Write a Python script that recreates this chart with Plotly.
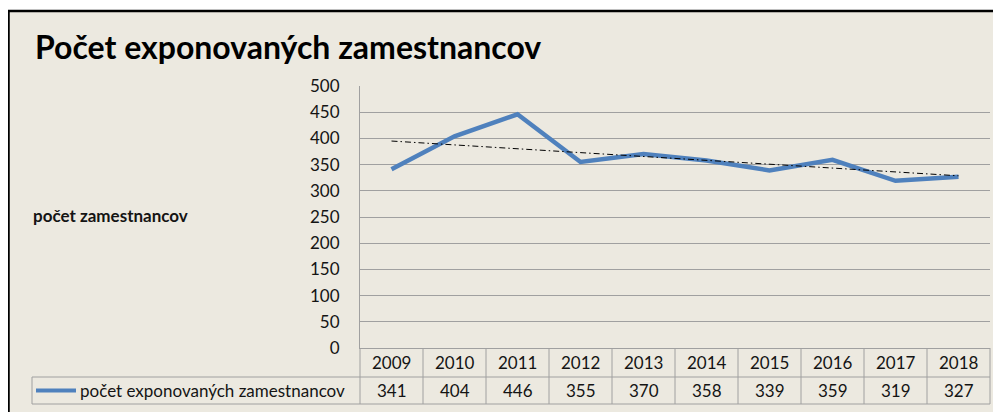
import numpy as np
import plotly.graph_objects as go

# ---- data ----
years = ["2009", "2010", "2011", "2012", "2013", "2014", "2015", "2016", "2017", "2018"]
values = [341, 404, 446, 355, 370, 358, 339, 359, 319, 327]
series_name = "počet exponovaných zamestnancov"
title_text = "Počet exponovaných zamestnancov"
y_title = "počet zamestnancov"
y_ticks = [0, 50, 100, 150, 200, 250, 300, 350, 400, 450, 500]

# ---- layout geometry (page pixel coords; page body has 8px margin) ----
OFF = 8
W, H = 1001 - OFF, 412 - OFF
ML, MR, MT, MB = 360 - OFF, 11, 86 - OFF, 412 - 348
PW = W - ML - MR
PH = H - MT - MB
BEIGE = "#ECE9E0"
GRID = "#A0A0A0"
BLUE = "#4F81BD"
FONT = "Lato"
TXT = "#141414"


def px(xp):
    # page pixel x -> paper x
    return (xp - OFF - ML) / PW


def py(yp):
    # page pixel y -> paper y
    return (H - MB - (yp - OFF)) / PH


# linear trendline computed from the data
idx = np.arange(len(values))
slope, intercept = np.polyfit(idx, values, 1)
trend = slope * idx + intercept

fig = go.Figure()
fig.add_trace(go.Scatter(x=years, y=values, mode="lines",
                         line=dict(color=BLUE, width=4.5), showlegend=False,
                         name=series_name))
fig.add_trace(go.Scatter(x=years, y=trend, mode="lines",
                         line=dict(color="black", width=1, dash="6px,3px,1.5px,3px"),
                         showlegend=False))

shapes = []
# outer chart frame (beige with black border on top/left)
shapes.append(dict(type="rect", xref="paper", yref="paper", layer="below",
                   x0=px(8.5), x1=px(1030), y0=py(11), y1=py(440),
                   fillcolor=BEIGE, line=dict(color="black", width=2.5)))

# data table grid
n = len(years)
row1_top, row2_top, row2_bot = 348, 377, 404
plot_left = 360
col_w = PW / n
for k in range(n + 1):
    xk = plot_left + k * col_w
    shapes.append(dict(type="line", xref="paper", yref="paper",
                       x0=px(xk), x1=px(xk), y0=py(row1_top), y1=py(row2_bot),
                       line=dict(color=GRID, width=1)))
for yy in (row2_top, row2_bot):
    shapes.append(dict(type="line", xref="paper", yref="paper",
                       x0=px(32), x1=px(plot_left + PW), y0=py(yy), y1=py(yy),
                       line=dict(color=GRID, width=1)))
shapes.append(dict(type="line", xref="paper", yref="paper",
                   x0=px(32), x1=px(32), y0=py(row2_top), y1=py(row2_bot),
                   line=dict(color=GRID, width=1)))
# legend key
shapes.append(dict(type="line", xref="paper", yref="paper",
                   x0=px(36), x1=px(76), y0=py(390.5), y1=py(390.5),
                   line=dict(color=BLUE, width=4)))

annotations = []
annotations.append(dict(text="<b>" + title_text + "</b>", xref="paper", yref="paper",
                        x=px(33), y=py(47), xanchor="left", yanchor="middle",
                        showarrow=False, font=dict(family=FONT, size=32, color="black")))
annotations.append(dict(text="<b>" + y_title + "</b>", xref="paper", yref="paper",
                        x=px(31), y=py(215), xanchor="left", yanchor="middle",
                        showarrow=False, font=dict(family=FONT, size=17, color=TXT)))
annotations.append(dict(text=series_name, xref="paper", yref="paper",
                        x=px(78), y=py(390.5), xanchor="left", yanchor="middle",
                        showarrow=False, font=dict(family=FONT, size=17, color=TXT)))
for i, (yr, v) in enumerate(zip(years, values)):
    annotations.append(dict(text=yr, xref="x", yref="paper", x=i, y=py(362.5),
                            xanchor="center", yanchor="middle", showarrow=False,
                            font=dict(family=FONT, size=17, color=TXT)))
    annotations.append(dict(text=str(v), xref="x", yref="paper", x=i, y=py(390.5),
                            xanchor="center", yanchor="middle", showarrow=False,
                            font=dict(family=FONT, size=17, color=TXT)))

fig.update_layout(
    width=W, height=H,
    margin=dict(l=ML, r=MR, t=MT, b=MB, pad=0),
    paper_bgcolor="white", plot_bgcolor="white",
    shapes=shapes, annotations=annotations,
    font=dict(family=FONT, color=TXT),
    xaxis=dict(type="category", range=[-0.5, n - 0.5], showticklabels=False,
               showgrid=False, zeroline=False, showline=True, linecolor=GRID,
               linewidth=1, ticks=""),
    yaxis=dict(range=[0, 500], tickvals=y_ticks, showgrid=True, gridcolor=GRID,
               gridwidth=1, zeroline=False, showline=True, linecolor=GRID,
               linewidth=1, ticks="", ticklabelstandoff=16,
               tickfont=dict(family=FONT, size=17, color=TXT)),
)

fig.write_html("out.html")
